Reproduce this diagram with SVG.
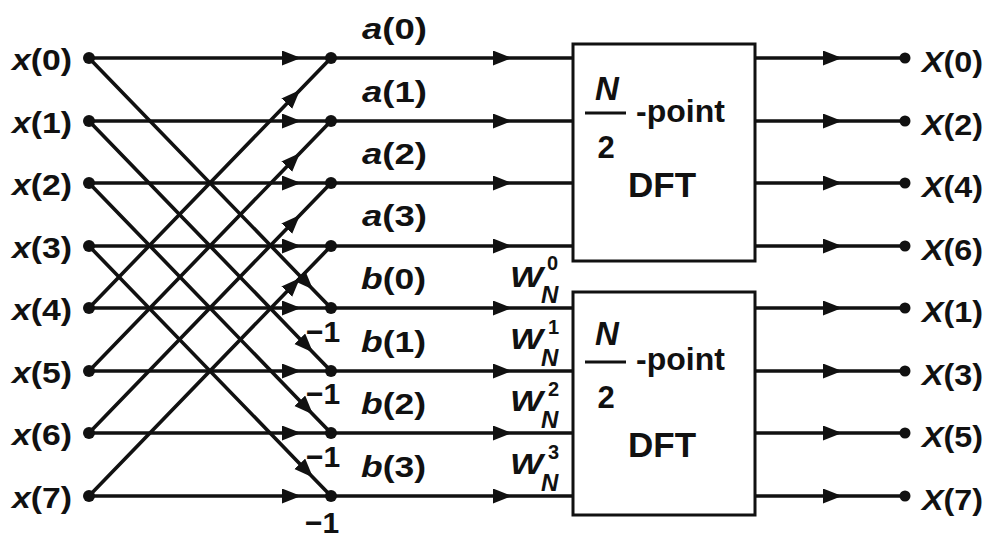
<svg xmlns="http://www.w3.org/2000/svg" width="991" height="541" viewBox="0 0 991 541">
<defs>
<style>
.ln{fill:none;stroke:#111;stroke-width:3.6;stroke-linejoin:round}
.ar{marker-mid:url(#ah)}
.dot{fill:#111}
.t{font-family:"Liberation Sans",Arial,Helvetica,sans-serif;font-weight:bold;fill:#111}
.lab{font-size:30px}
.it{font-style:italic}
.box{fill:#fff;stroke:#111;stroke-width:3}
</style>
<marker id="ah" markerUnits="userSpaceOnUse" markerWidth="20" markerHeight="16" refX="19" refY="7.5" orient="auto">
<path d="M0,0 L19,7.5 L0,15 z" fill="#111"/>
</marker>
</defs>
<rect width="991" height="541" fill="#fff"/>

<g id="connectors">
<path class="ln ar" d="M89,58 L301,58 L331,58"/>
<path class="ln ar" d="M89,121 L301,121 L331,121"/>
<path class="ln ar" d="M89,183 L301,183 L331,183"/>
<path class="ln ar" d="M89,246 L301,246 L331,246"/>
<path class="ln ar" d="M89,308 L301,308 L331,308"/>
<path class="ln ar" d="M89,371 L301,371 L331,371"/>
<path class="ln ar" d="M89,433 L301,433 L331,433"/>
<path class="ln ar" d="M89,496 L301,496 L331,496"/>
<path class="ln ar" d="M89,58 L313,289.4 L331,308"/>
<path class="ln ar" d="M89,121 L313,352.4 L331,371"/>
<path class="ln ar" d="M89,183 L313,414.4 L331,433"/>
<path class="ln ar" d="M89,246 L313,477.4 L331,496"/>
<path class="ln ar" d="M89,308 L300,90 L331,58"/>
<path class="ln ar" d="M89,371 L300,153 L331,121"/>
<path class="ln ar" d="M89,433 L300,215 L331,183"/>
<path class="ln ar" d="M89,496 L300,278 L331,246"/>
<path class="ln ar" d="M331,58 L512,58 L572,58"/>
<path class="ln ar" d="M331,121 L512,121 L572,121"/>
<path class="ln ar" d="M331,183 L512,183 L572,183"/>
<path class="ln ar" d="M331,246 L512,246 L572,246"/>
<path class="ln ar" d="M331,308 L512,308 L572,308"/>
<path class="ln ar" d="M331,371 L512,371 L572,371"/>
<path class="ln ar" d="M331,433 L512,433 L572,433"/>
<path class="ln ar" d="M331,496 L512,496 L572,496"/>
<path class="ln ar" d="M755,58 L842,58 L905,58"/>
<path class="ln ar" d="M755,121 L842,121 L905,121"/>
<path class="ln ar" d="M755,183 L842,183 L905,183"/>
<path class="ln ar" d="M755,246 L842,246 L905,246"/>
<path class="ln ar" d="M755,308 L842,308 L905,308"/>
<path class="ln ar" d="M755,371 L842,371 L905,371"/>
<path class="ln ar" d="M755,433 L842,433 L905,433"/>
<path class="ln ar" d="M755,496 L842,496 L905,496"/>
</g>

<g id="x0"><circle class="dot" cx="89" cy="58" r="6"/><text class="t lab" x="12" y="70" textLength="60" lengthAdjust="spacingAndGlyphs"><tspan class="it">x</tspan>(0)</text></g>
<g id="x1"><circle class="dot" cx="89" cy="121" r="6"/><text class="t lab" x="12" y="133" textLength="60" lengthAdjust="spacingAndGlyphs"><tspan class="it">x</tspan>(1)</text></g>
<g id="x2"><circle class="dot" cx="89" cy="183" r="6"/><text class="t lab" x="12" y="195" textLength="60" lengthAdjust="spacingAndGlyphs"><tspan class="it">x</tspan>(2)</text></g>
<g id="x3"><circle class="dot" cx="89" cy="246" r="6"/><text class="t lab" x="12" y="258" textLength="60" lengthAdjust="spacingAndGlyphs"><tspan class="it">x</tspan>(3)</text></g>
<g id="x4"><circle class="dot" cx="89" cy="308" r="6"/><text class="t lab" x="12" y="320" textLength="60" lengthAdjust="spacingAndGlyphs"><tspan class="it">x</tspan>(4)</text></g>
<g id="x5"><circle class="dot" cx="89" cy="371" r="6"/><text class="t lab" x="12" y="383" textLength="60" lengthAdjust="spacingAndGlyphs"><tspan class="it">x</tspan>(5)</text></g>
<g id="x6"><circle class="dot" cx="89" cy="433" r="6"/><text class="t lab" x="12" y="445" textLength="60" lengthAdjust="spacingAndGlyphs"><tspan class="it">x</tspan>(6)</text></g>
<g id="x7"><circle class="dot" cx="89" cy="496" r="6"/><text class="t lab" x="12" y="508" textLength="60" lengthAdjust="spacingAndGlyphs"><tspan class="it">x</tspan>(7)</text></g>

<g id="a0"><circle class="dot" cx="331" cy="58" r="6"/><text class="t lab" x="362" y="39" textLength="65" lengthAdjust="spacingAndGlyphs"><tspan class="it">a</tspan>(0)</text></g>
<g id="a1"><circle class="dot" cx="331" cy="121" r="6"/><text class="t lab" x="362" y="102" textLength="65" lengthAdjust="spacingAndGlyphs"><tspan class="it">a</tspan>(1)</text></g>
<g id="a2"><circle class="dot" cx="331" cy="183" r="6"/><text class="t lab" x="362" y="164" textLength="65" lengthAdjust="spacingAndGlyphs"><tspan class="it">a</tspan>(2)</text></g>
<g id="a3"><circle class="dot" cx="331" cy="246" r="6"/><text class="t lab" x="362" y="226" textLength="65" lengthAdjust="spacingAndGlyphs"><tspan class="it">a</tspan>(3)</text></g>
<g id="b0"><circle class="dot" cx="331" cy="308" r="6"/><text class="t lab" x="361" y="289" textLength="65" lengthAdjust="spacingAndGlyphs"><tspan class="it">b</tspan>(0)</text><text class="t lab" x="306" y="342">−1</text></g>
<g id="b1"><circle class="dot" cx="331" cy="371" r="6"/><text class="t lab" x="361" y="352" textLength="65" lengthAdjust="spacingAndGlyphs"><tspan class="it">b</tspan>(1)</text><text class="t lab" x="306" y="404">−1</text></g>
<g id="b2"><circle class="dot" cx="331" cy="433" r="6"/><text class="t lab" x="361" y="414" textLength="65" lengthAdjust="spacingAndGlyphs"><tspan class="it">b</tspan>(2)</text><text class="t lab" x="306" y="467">−1</text></g>
<g id="b3"><circle class="dot" cx="331" cy="496" r="6"/><text class="t lab" x="361" y="477" textLength="65" lengthAdjust="spacingAndGlyphs"><tspan class="it">b</tspan>(3)</text><text class="t lab" x="305" y="533">−1</text></g>

<g id="w0" class="t"><text class="it" x="510" y="287" font-size="30" textLength="33" lengthAdjust="spacingAndGlyphs">W</text><text class="it" x="541" y="303" font-size="24">N</text><text x="547" y="270" font-size="20">0</text></g>
<g id="w1" class="t"><text class="it" x="510" y="349" font-size="30" textLength="33" lengthAdjust="spacingAndGlyphs">W</text><text class="it" x="541" y="366" font-size="24">N</text><text x="548" y="334" font-size="20">1</text></g>
<g id="w2" class="t"><text class="it" x="510" y="411" font-size="30" textLength="33" lengthAdjust="spacingAndGlyphs">W</text><text class="it" x="541" y="428" font-size="24">N</text><text x="548" y="396" font-size="20">2</text></g>
<g id="w3" class="t"><text class="it" x="510" y="474" font-size="30" textLength="33" lengthAdjust="spacingAndGlyphs">W</text><text class="it" x="541" y="491" font-size="24">N</text><text x="548" y="459" font-size="20">3</text></g>

<g id="dft_upper">
<rect class="box" x="573" y="44" width="182" height="217"/>
<text class="t it" x="607" y="100" font-size="33" text-anchor="middle">N</text>
<line x1="585" y1="113" x2="626" y2="113" stroke="#111" stroke-width="3"/>
<text class="t" x="606" y="158" font-size="31" text-anchor="middle">2</text>
<text class="t" x="636" y="122" font-size="32">-point</text>
<text class="t" x="628" y="197" font-size="35">DFT</text>
</g>
<g id="dft_lower">
<rect class="box" x="573" y="292" width="182" height="223"/>
<text class="t it" x="607" y="345" font-size="33" text-anchor="middle">N</text>
<line x1="585" y1="362" x2="626" y2="362" stroke="#111" stroke-width="3"/>
<text class="t" x="606" y="408" font-size="31" text-anchor="middle">2</text>
<text class="t" x="636" y="370" font-size="32">-point</text>
<text class="t" x="628" y="457" font-size="35">DFT</text>
</g>

<g id="X0"><circle class="dot" cx="905" cy="58" r="5.5"/><text class="t lab" x="922" y="72" textLength="61" lengthAdjust="spacingAndGlyphs"><tspan class="it">X</tspan>(0)</text></g>
<g id="X2"><circle class="dot" cx="905" cy="121" r="5.5"/><text class="t lab" x="922" y="135" textLength="61" lengthAdjust="spacingAndGlyphs"><tspan class="it">X</tspan>(2)</text></g>
<g id="X4"><circle class="dot" cx="905" cy="183" r="5.5"/><text class="t lab" x="922" y="197" textLength="61" lengthAdjust="spacingAndGlyphs"><tspan class="it">X</tspan>(4)</text></g>
<g id="X6"><circle class="dot" cx="905" cy="246" r="5.5"/><text class="t lab" x="922" y="260" textLength="61" lengthAdjust="spacingAndGlyphs"><tspan class="it">X</tspan>(6)</text></g>
<g id="X1"><circle class="dot" cx="905" cy="308" r="5.5"/><text class="t lab" x="922" y="322" textLength="61" lengthAdjust="spacingAndGlyphs"><tspan class="it">X</tspan>(1)</text></g>
<g id="X3"><circle class="dot" cx="905" cy="371" r="5.5"/><text class="t lab" x="922" y="385" textLength="61" lengthAdjust="spacingAndGlyphs"><tspan class="it">X</tspan>(3)</text></g>
<g id="X5"><circle class="dot" cx="905" cy="433" r="5.5"/><text class="t lab" x="922" y="447" textLength="61" lengthAdjust="spacingAndGlyphs"><tspan class="it">X</tspan>(5)</text></g>
<g id="X7"><circle class="dot" cx="905" cy="496" r="5.5"/><text class="t lab" x="922" y="510" textLength="61" lengthAdjust="spacingAndGlyphs"><tspan class="it">X</tspan>(7)</text></g>
</svg>
